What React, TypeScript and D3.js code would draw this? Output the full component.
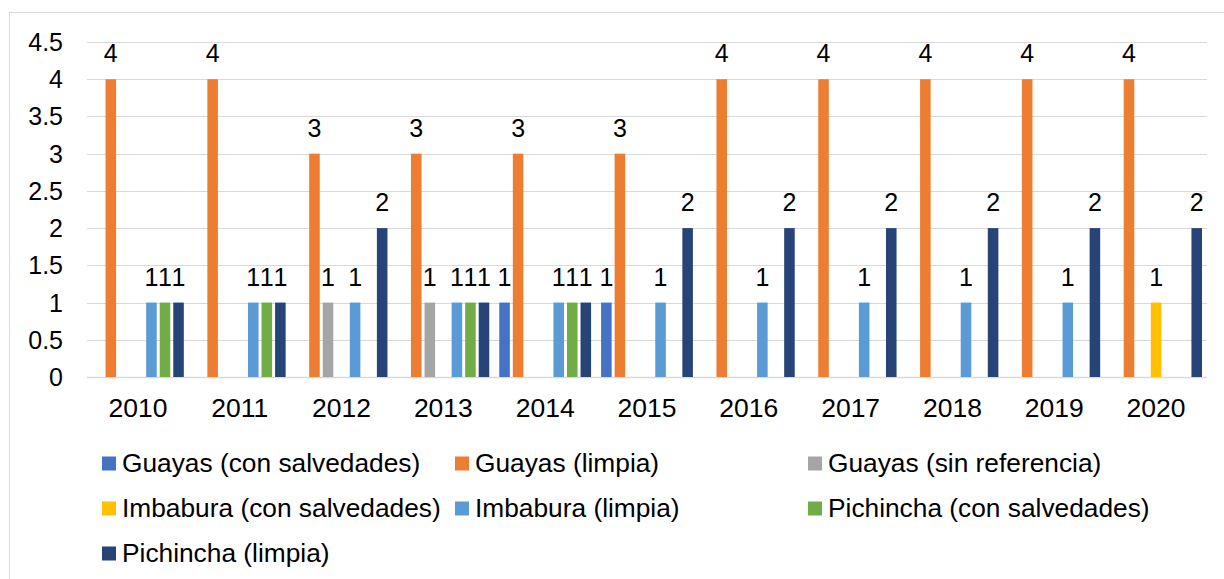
import React, { useEffect, useRef } from "react";
import * as d3 from "d3";

const years = ["2010", "2011", "2012", "2013", "2014", "2015", "2016", "2017", "2018", "2019", "2020"];
const seriesNames = [
  "Guayas (con salvedades)",
  "Guayas (limpia)",
  "Guayas (sin referencia)",
  "Imbabura (con salvedades)",
  "Imbabura (limpia)",
  "Pichincha (con salvedades)",
  "Pichincha (limpia)",
];
const seriesColors = ["#4472C4", "#ED7D31", "#A5A5A5", "#FFC000", "#5B9BD5", "#70AD47", "#264478"];

const guayasConSalvedades = [0, 0, 0, 0, 1, 1, 0, 0, 0, 0, 0];
const guayasLimpia = [4, 4, 3, 3, 3, 3, 4, 4, 4, 4, 4];
const guayasSinReferencia = [0, 0, 1, 1, 0, 0, 0, 0, 0, 0, 0];
const imbaburaConSalvedades = [0, 0, 0, 0, 0, 0, 0, 0, 0, 0, 1];
const imbaburaLimpia = [1, 1, 1, 1, 1, 1, 1, 1, 1, 1, 0];
const pichinchaConSalvedades = [1, 1, 0, 1, 1, 0, 0, 0, 0, 0, 0];
const pichinchaLimpia = [1, 1, 2, 1, 1, 2, 2, 2, 2, 2, 2];

const yTicks = [0, 0.5, 1, 1.5, 2, 2.5, 3, 3.5, 4, 4.5];

const allSeries = [
  guayasConSalvedades,
  guayasLimpia,
  guayasSinReferencia,
  imbaburaConSalvedades,
  imbaburaLimpia,
  pichinchaConSalvedades,
  pichinchaLimpia,
];

const FONT = "'Liberation Sans', Arial, sans-serif";

export default function App() {
  const ref = useRef<SVGSVGElement>(null);

  useEffect(() => {
    const svg = d3.select(ref.current);
    svg.selectAll("*").remove();

    // chart frame
    svg
      .append("rect")
      .attr("x", 9.5)
      .attr("y", 12.5)
      .attr("width", 1230)
      .attr("height", 600)
      .attr("fill", "#fff")
      .attr("stroke", "#d9d9d9");

    const x0 = d3.scaleBand().domain(years).range([87, 1207]).padding(0);
    const x1 = d3
      .scaleBand()
      .domain(seriesNames)
      .range([5, x0.bandwidth() - 5])
      .paddingInner(0.22);
    const y = d3.scaleLinear().domain([0, 4.5]).range([377, 42]);

    // gridlines
    svg
      .append("g")
      .selectAll("line")
      .data(yTicks)
      .enter()
      .append("line")
      .attr("x1", 87)
      .attr("x2", 1207)
      .attr("y1", d => Math.round(y(d)) + 0.5)
      .attr("y2", d => Math.round(y(d)) + 0.5)
      .attr("stroke", "#d9d9d9")
      .attr("stroke-width", d => (d === 0 ? 1.5 : 1));

    // y tick labels
    svg
      .append("g")
      .selectAll("text")
      .data(yTicks)
      .enter()
      .append("text")
      .attr("x", 63)
      .attr("y", d => y(d))
      .attr("dy", "0.36em")
      .attr("text-anchor", "end")
      .attr("font-family", FONT)
      .attr("font-size", 25)
      .attr("fill", "#000")
      .text(d => String(d));

    // x labels
    svg
      .append("g")
      .selectAll("text")
      .data(years)
      .enter()
      .append("text")
      .attr("x", d => x0(d)! + x0.bandwidth() / 2)
      .attr("y", 417)
      .attr("text-anchor", "middle")
      .attr("font-family", FONT)
      .attr("font-size", 26.5)
      .attr("fill", "#000")
      .text(d => d);

    // bars
    allSeries.forEach((vals, si) => {
      const name = seriesNames[si];
      const g = svg.append("g");
      const data = years.map((yr, i) => ({ yr, v: vals[i] })).filter(d => d.v > 0);
      g.selectAll("rect")
        .data(data)
        .enter()
        .append("rect")
        .attr("x", d => x0(d.yr)! + x1(name)!)
        .attr("y", d => y(d.v))
        .attr("width", x1.bandwidth())
        .attr("height", d => y(0) - y(d.v))
        .attr("fill", seriesColors[si]);
      g.selectAll("text")
        .data(data)
        .enter()
        .append("text")
        .attr("x", d => x0(d.yr)! + x1(name)! + x1.bandwidth() / 2)
        .attr("y", d => y(d.v) - 17)
        .attr("text-anchor", "middle")
        .attr("font-family", FONT)
        .attr("font-size", 25)
        .attr("fill", "#000")
        .text(d => String(d.v));
    });

    // legend
    const legendCols = [102, 455, 808];
    const legendRows = [463.5, 508.5, 553.5];
    const lg = svg.append("g");
    seriesNames.forEach((name, i) => {
      const cx = legendCols[i % 3];
      const cy = legendRows[Math.floor(i / 3)];
      lg.append("rect")
        .attr("x", cx)
        .attr("y", cy - 7)
        .attr("width", 14)
        .attr("height", 14)
        .attr("fill", seriesColors[i]);
      lg.append("text")
        .attr("x", cx + 20)
        .attr("y", cy + 8.5)
        .attr("font-family", FONT)
        .attr("font-size", 26.3)
        .attr("fill", "#000")
        .text(name);
    });
  }, []);

  return (
    <div style={{ position: "absolute", left: 0, top: 0 }}>
      <svg ref={ref} width={1224} height={579} style={{ display: "block" }} />
    </div>
  );
}
